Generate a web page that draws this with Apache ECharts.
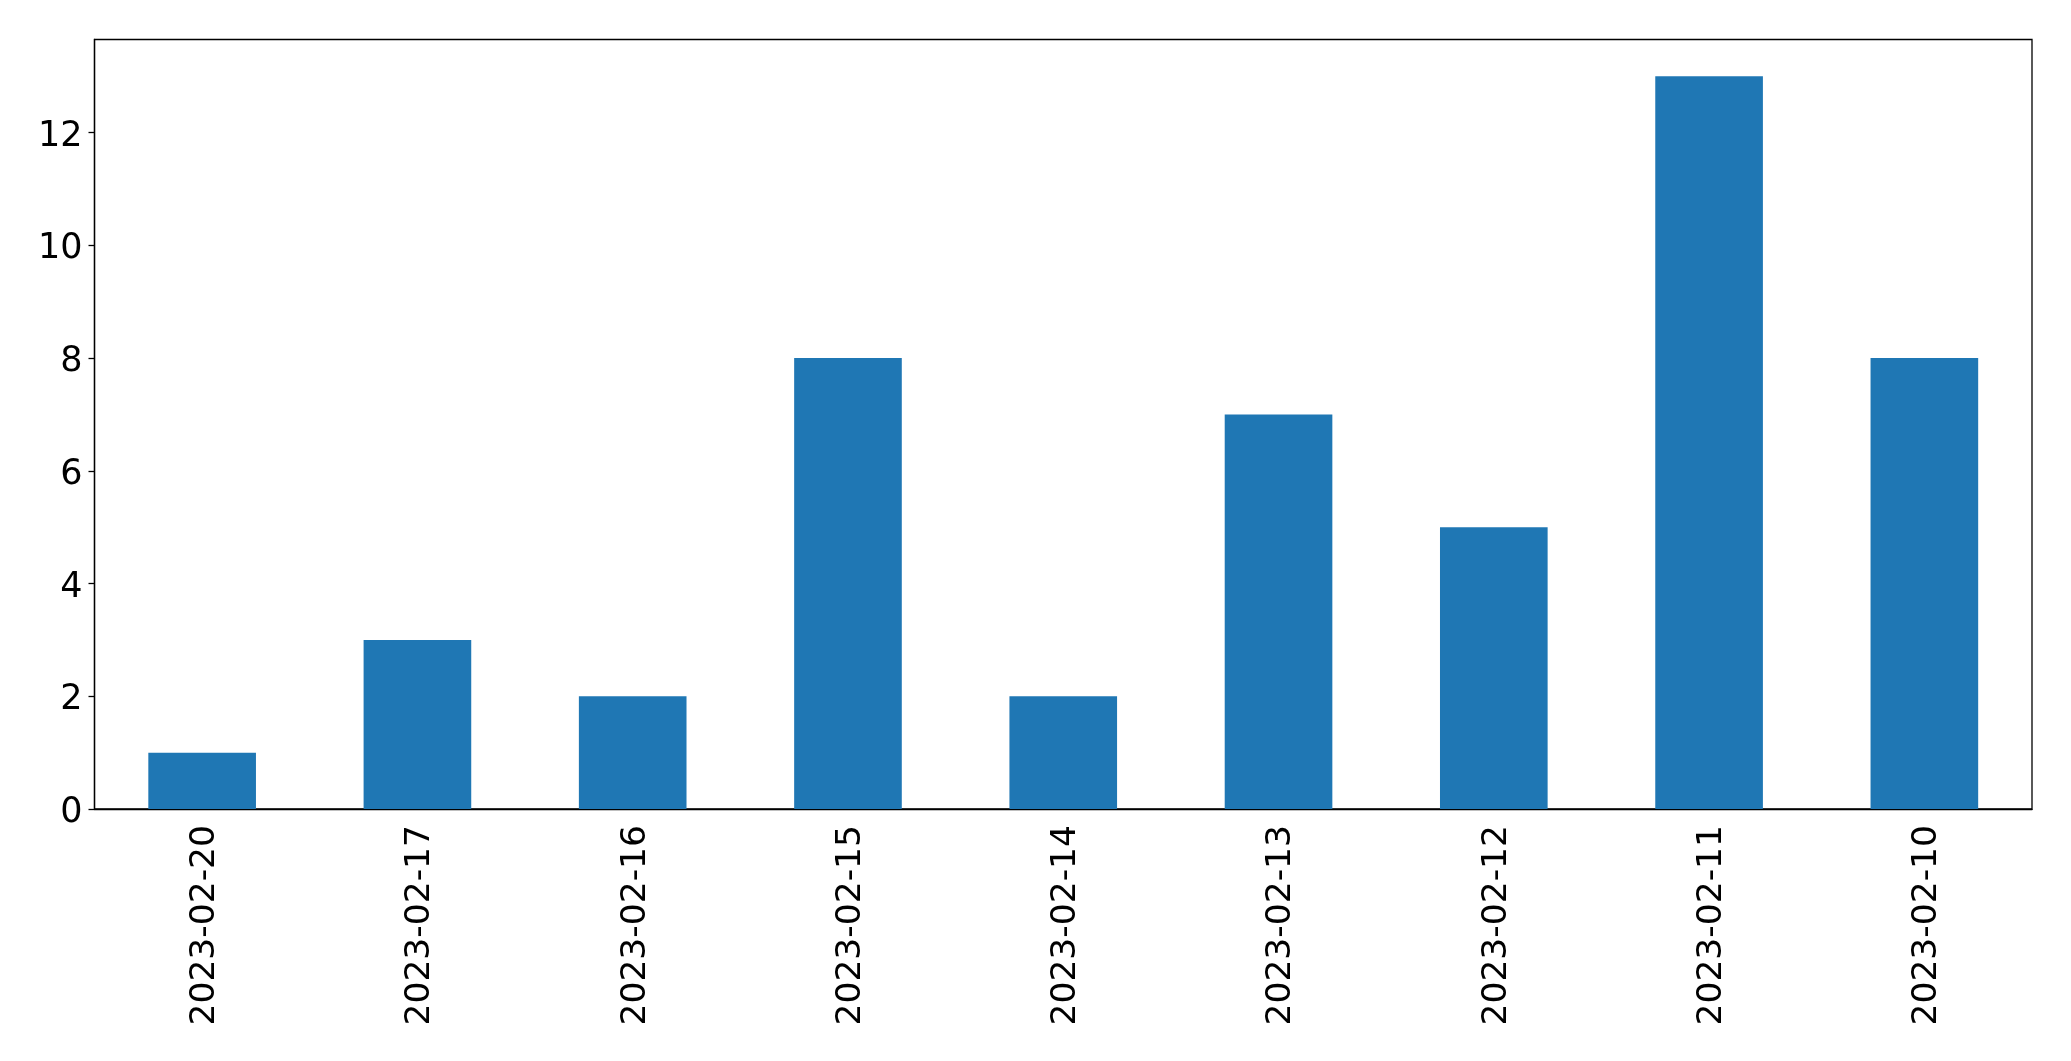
<!DOCTYPE html>
<html>
<head>
<meta charset="utf-8">
<script src="https://cdn.jsdelivr.net/npm/echarts@6/dist/echarts.min.js"></script>
<style>
html,body{margin:0;padding:0;background:#fff;}
#chart{width:2071px;height:1061px;}
</style>
</head>
<body>
<div id="chart"></div>
<script>
const categories = ['2023-02-20','2023-02-17','2023-02-16','2023-02-15','2023-02-14','2023-02-13','2023-02-12','2023-02-11','2023-02-10'];
const values = [1, 3, 2, 8, 2, 7, 5, 13, 8];
const yTicks = [0, 2, 4, 6, 8, 10, 12];

const chart = echarts.init(document.getElementById('chart'), null, {renderer: 'canvas'});
const font = 'DejaVu Sans';
chart.setOption({
  animation: false,
  backgroundColor: '#fff',
  grid: {
    left: 94.5, right: 39, top: 39.5, bottom: 252,
    show: true, borderColor: '#000', borderWidth: 1.3, backgroundColor: 'transparent'
  },
  xAxis: {
    type: 'category',
    data: categories,
    axisLine: {lineStyle: {color: '#000', width: 1.3}},
    axisTick: {alignWithLabel: true, length: 6, lineStyle: {color: '#000', width: 1.3}},
    axisLabel: {rotate: 90, color: '#000', fontSize: 34.5, fontFamily: font, margin: 16, interval: 0,
      verticalAlign: 'top', lineHeight: 6}
  },
  yAxis: {
    type: 'value',
    min: 0, max: 13.65,
    splitLine: {show: false},
    axisLine: {show: true, lineStyle: {color: '#000', width: 1.3}},
    axisTick: {show: true, length: 6, lineStyle: {color: '#000', width: 1.3}, customValues: yTicks},
    axisLabel: {color: '#000', fontSize: 35, fontFamily: font, margin: 12, customValues: yTicks,
      verticalAlign: 'top', lineHeight: 8}
  },
  series: [{
    type: 'bar',
    data: values,
    barWidth: '50%',
    itemStyle: {color: '#1f77b4'}
  }]
});
</script>
</body>
</html>
